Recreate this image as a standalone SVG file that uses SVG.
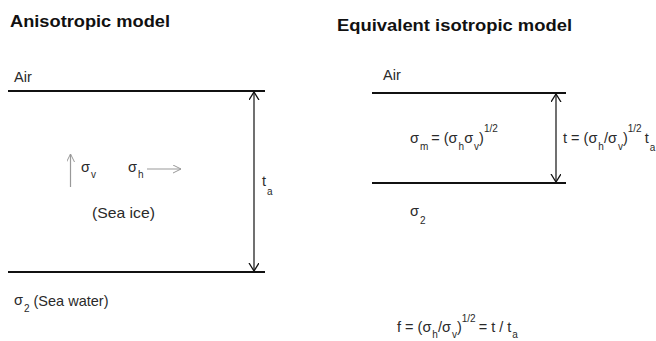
<svg xmlns="http://www.w3.org/2000/svg" width="656" height="341" viewBox="0 0 656 341">
<style>
text{font-family:"Liberation Sans",Arial,sans-serif;fill:#2a2a2a;font-size:14.5px}
.title{font-weight:bold;font-size:17px;fill:#111}
.sub{font-size:10px}
.layer{stroke:#111;stroke-width:2.2;fill:none}
.dim{stroke:#111;stroke-width:1.2;fill:none}
.dir{stroke:#999;stroke-width:1.2;fill:none}
</style>
<defs>
<marker id="open" markerWidth="10" markerHeight="12" refX="8" refY="5" orient="auto-start-reverse" markerUnits="userSpaceOnUse">
<path d="M0,0 L8,5 L0,10" fill="none" stroke="#111" stroke-width="1.3"/>
</marker>
<marker id="openg" markerWidth="10" markerHeight="10" refX="8" refY="4" orient="auto" markerUnits="userSpaceOnUse">
<path d="M0,0 L8,4 L0,8" fill="none" stroke="#999" stroke-width="1"/>
</marker>
</defs>

<g id="anisotropic">
<text class="title" x="10" y="27" textLength="160" lengthAdjust="spacingAndGlyphs">Anisotropic model</text>
<text x="14" y="82">Air</text>
<g id="layers-left">
<line class="layer" x1="8" y1="91" x2="265" y2="91"/>
<line class="layer" x1="8" y1="272" x2="265" y2="272"/>
</g>
<text x="81" y="172">σ<tspan class="sub" dx="1" dy="6">v</tspan></text>
<text x="128" y="172">σ<tspan class="sub" dx="1" dy="6">h</tspan></text>
<text x="92" y="218" textLength="63" lengthAdjust="spacingAndGlyphs">(Sea ice)</text>
<text x="262" y="186">t<tspan class="sub" dx="1" dy="9">a</tspan></text>
<text x="14" y="305">σ<tspan class="sub" dx="1" dy="7">2</tspan><tspan dx="4" dy="-6">(Sea water)</tspan></text>
</g>

<g id="isotropic">
<text class="title" x="337" y="31" textLength="235" lengthAdjust="spacingAndGlyphs">Equivalent isotropic model</text>
<text x="383" y="80">Air</text>
<g id="layers-right">
<line class="layer" x1="372" y1="93" x2="566" y2="93"/>
<line class="layer" x1="372" y1="183" x2="566" y2="183"/>
</g>
<text x="410" y="143">σ<tspan class="sub" dx="1" dy="7">m</tspan><tspan dx="3" dy="-7">= (σ</tspan><tspan class="sub" dx="1" dy="7">h</tspan><tspan dy="-7">σ</tspan><tspan class="sub" dx="1" dy="7">v</tspan><tspan dy="-7">)</tspan><tspan class="sub" dy="-11">1/2</tspan></text>
<text x="563" y="143">t = (σ<tspan class="sub" dx="1" dy="7">h</tspan><tspan dy="-7">/σ</tspan><tspan class="sub" dx="1" dy="7">v</tspan><tspan dy="-7">)</tspan><tspan class="sub" dy="-11">1/2</tspan><tspan dx="3" dy="11">t</tspan><tspan class="sub" dx="1" dy="8">a</tspan></text>
<text x="410" y="216">σ<tspan class="sub" dx="1" dy="8">2</tspan></text>
<text x="397" y="332">f = (σ<tspan class="sub" dx="1" dy="6">h</tspan><tspan dy="-6">/σ</tspan><tspan class="sub" dx="1" dy="6">v</tspan><tspan dy="-6">)</tspan><tspan class="sub" dy="-10">1/2</tspan><tspan dx="3" dy="10">= t / t</tspan><tspan class="sub" dx="1" dy="6">a</tspan></text>
</g>

<g id="connectors">
<line class="dim" x1="254" y1="92" x2="254" y2="271" marker-start="url(#open)" marker-end="url(#open)"/>
<line class="dim" x1="556" y1="94" x2="556" y2="182" marker-start="url(#open)" marker-end="url(#open)"/>
<line class="dir" x1="70.5" y1="187" x2="70.5" y2="154" marker-end="url(#openg)"/>
<line class="dir" x1="147" y1="169" x2="181" y2="169" marker-end="url(#openg)"/>
</g>
</svg>
